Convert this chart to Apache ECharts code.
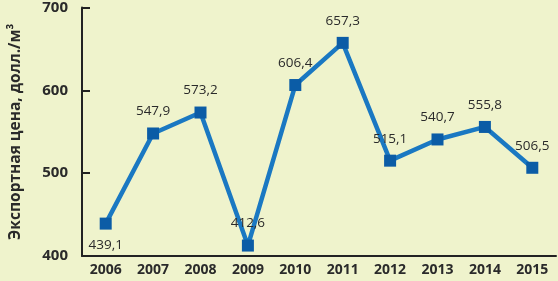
<!DOCTYPE html>
<html><head><meta charset="utf-8">
<script src="https://cdn.jsdelivr.net/npm/echarts@6/dist/echarts.min.js"></script>
<style>html,body{margin:0;padding:0;background:#eff3cc;}#c{width:558px;height:281px;}</style>
</head><body><div id="c"></div>
<script>
const categories = ['2006','2007','2008','2009','2010','2011','2012','2013','2014','2015'];
const values = [439.1, 547.9, 573.2, 412.6, 606.4, 657.3, 515.1, 540.7, 555.8, 506.5];
const yTicks = [400, 500, 600, 700];
const yName = 'Экспортная цена, долл./м³';

const chart = echarts.init(document.getElementById('c'), null, {renderer: 'canvas'});
chart.setOption({
  backgroundColor: '#eff3cc',
  animation: false,
  grid: {left: 72, right: 2, top: 6, bottom: 25},
  xAxis: {
    type: 'category', data: categories, boundaryGap: true,
    axisLine: {lineStyle: {color: '#222', width: 2}},
    axisTick: {inside: true, length: 5, lineStyle: {color: '#222', width: 2}},
    axisLabel: {color: '#2a2a2a', fontWeight: 'bold', fontSize: 14, fontFamily: 'Open Sans', margin: 7}
  },
  yAxis: {
    type: 'value', min: yTicks[0], max: yTicks[yTicks.length-1], interval: 100,
    name: yName, nameLocation: 'middle', nameGap: 58, nameRotate: 90,
    nameTextStyle: {color: '#2a2a2a', fontWeight: 'bold', fontSize: 15.5, fontFamily: 'Open Sans'},
    splitLine: {show: false},
    axisLine: {show: true, lineStyle: {color: '#222', width: 2}},
    axisTick: {show: true, inside: true, length: 8, lineStyle: {color: '#222', width: 2}},
    axisLabel: {color: '#2a2a2a', fontWeight: 'bold', fontSize: 15, fontFamily: 'Open Sans', margin: 14}
  },
  series: [{
    type: 'line', data: values.map((v, i) => ({
      value: v,
      label: {position: i === 0 ? 'bottom' : 'top'}
    })),
    symbol: 'rect', symbolSize: 12,
    lineStyle: {color: '#1a78c2', width: 4.5},
    itemStyle: {color: '#0b5ca6'},
    label: {show: true, distance: 9, color: '#2a2a2a', fontSize: 13.5, fontFamily: 'Open Sans',
      formatter: p => String(p.value).replace('.', ',')}
  }]
});
</script></body></html>
